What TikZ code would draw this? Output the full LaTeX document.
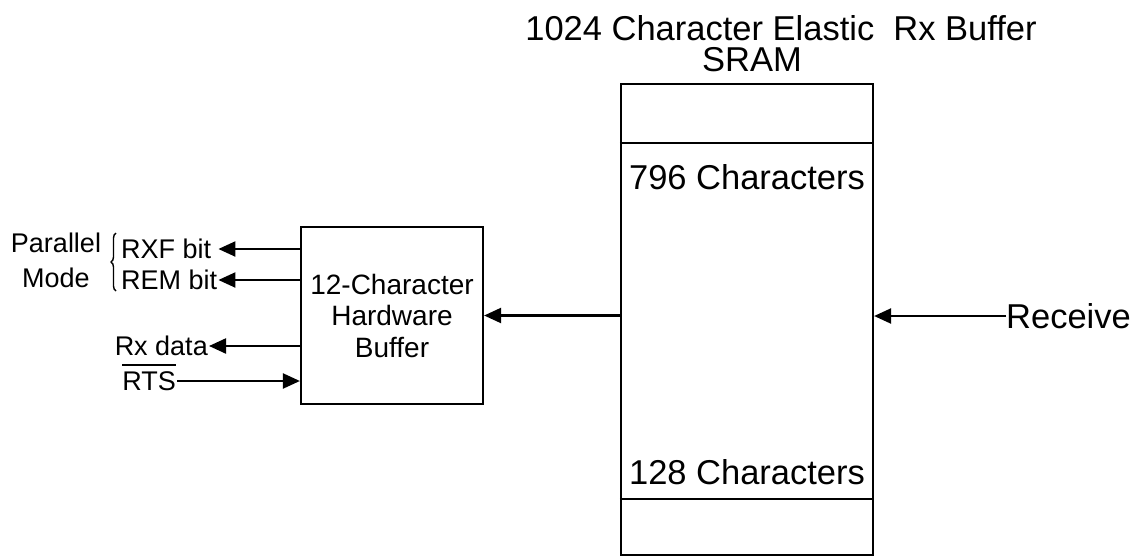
\documentclass[tikz,border=0pt]{standalone}
\usepackage{fontspec}
\setmainfont{Liberation Sans}
\usetikzlibrary{arrows.meta,positioning,decorations.pathreplacing}
\tikzset{
  block/.style = {draw, line width=2.2pt, inner sep=0pt, align=center},
  sig/.style   = {-{Triangle[length=17pt,width=15pt]}, line width=2.2pt},
  lbl/.style   = {inner sep=1pt, font=\fontsize{27}{35}\selectfont},
  big/.style   = {inner sep=0pt, font=\fontsize{34.5}{40}\selectfont},
}
\newcommand{\ovbar}[1]{\vbox{\hrule height 1.8pt\kern 6pt\hbox{#1}}}

\begin{document}
\begin{tikzpicture}[x=1pt,y=-1pt]
\useasboundingbox (0,0) rectangle (1141,557);

% elastic buffer
\node[big] (title) at (781,28) {1024 Character Elastic\ \ Rx Buffer};
\node[big] (sramlbl) at (752,60) {SRAM};
\node[block, minimum width=252pt, minimum height=471pt] (sram) at (747,319.5) {};
\draw[line width=2.2pt] (sram.west |- 0,143) -- (sram.east |- 0,143);
\draw[line width=2.2pt] (sram.west |- 0,499) -- (sram.east |- 0,499);
\node[big] (upper) at (747,177) {796 Characters};
\node[big] (lower) at (747,472) {128 Characters};

% hardware buffer
\node[block, minimum width=182pt, minimum height=177pt,
      font=\fontsize{28}{31.5}\selectfont] (hw) at (392,315.5)
      {12-Character\\Hardware\\Buffer};

\node[big, anchor=west] (rcv) at (1006,316) {Receive};
\draw[sig] (rcv.west) -- (sram.east |- rcv.west);
\draw[sig] (sram.west |- hw.east) -- (hw.east);

% parallel mode flags
\node[lbl, anchor=west] (rxf) at (120,249) {RXF bit};
\node[lbl, anchor=west] (rem) at (120,280) {REM bit};
\node[lbl, align=center] (mode) at (56,260) {Parallel\\Mode};
\draw[decorate, decoration={brace, amplitude=5pt}, line width=1.4pt]
  (116,291) -- (116,233);
\draw[sig] (hw.west |- rxf) -- (rem.east |- rxf);
\draw[sig] (hw.west |- rem) -- (rem.east);

% data and handshake
\node[lbl, anchor=east] (rxd) at (209,346) {Rx data};
\node[lbl, anchor=east, text height=19pt, text depth=0pt] (rts) at (177,381) {\ovbar{RTS}};
\draw[sig] (hw.west |- rxd) -- (rxd.east);
\draw[sig] (rts.east) -- (hw.west |- rts);
\end{tikzpicture}
\end{document}
